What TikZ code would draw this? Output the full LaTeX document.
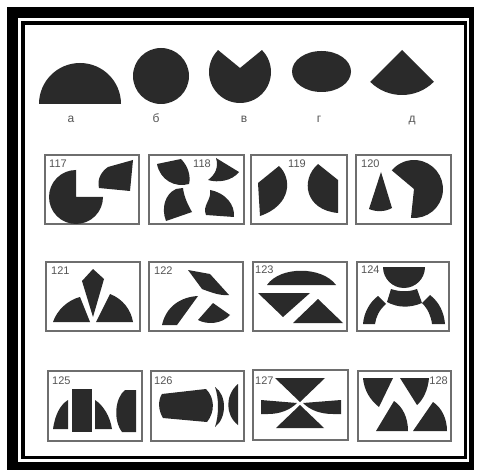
\documentclass[tikz,border=0pt]{standalone}
\usepackage{fontspec}
\setmainfont{Liberation Sans}
\definecolor{ink}{HTML}{2A2A2A}
\definecolor{pencil}{HTML}{555555}

\begin{document}
\begin{tikzpicture}[x=1pt, y=-1pt,
    piece/.style={fill=ink},
    card/.style={draw=pencil!85, line width=1.1pt},
    letter/.style={text=pencil, inner sep=0pt, anchor=base, font=\fontsize{12}{14}\selectfont},
    num/.style={text=pencil, inner sep=0pt, anchor=base west, font=\fontsize{11}{13}\selectfont}]
    \useasboundingbox (0,0) rectangle (479,473);
    % Frame
    \fill[white] (0,0) rectangle (479,473);
    \fill[black] (7,7) rectangle (474,470);
    \fill[white] (18,18) rectangle (469,462);
    \fill[black] (21,21) rectangle (467,459);
    \fill[white] (25,25) rectangle (464,456);
    % Figures a..d
    \fill[piece] (39,104) arc[start angle=180, end angle=360, radius=41] -- cycle;
    \fill[piece] (161,76) circle[radius=28];
    \fill[piece] (240,68) -- ([shift={(240,72)}]225:31) arc[start angle=225, end angle=-45, radius=31] -- cycle;
    \fill[piece] (321.5,71.5) ellipse[x radius=29.5, y radius=20.5];
    \fill[piece] (402,50) -- ++(45:45) arc[start angle=45, end angle=135, radius=45] -- cycle;
    \node[letter] (la) at (71,123) {а};
    \node[letter] (lb) at (156,123) {б};
    \node[letter] (lv) at (244,123) {в};
    \node[letter] (lg) at (319,123) {г};
    \node[letter] (ld) at (412,123) {д};
    % Cards
    \draw[card] (45,155) rectangle (139,224);
    \draw[card] (149,155) rectangle (244,224);
    \draw[card] (251,155) rectangle (347,224);
    \draw[card] (356,155) rectangle (451,224);
    \draw[card] (46,262) rectangle (140,331);
    \draw[card] (149,262) rectangle (243,331);
    \draw[card] (253,262) rectangle (347,331);
    \draw[card] (357,262) rectangle (449,331);
    \draw[card] (48,371) rectangle (142,441);
    \draw[card] (151,371) rectangle (244,441);
    \draw[card] (253,370) rectangle (348,440);
    \draw[card] (358,371) rectangle (451,441);
    % 117
    \node[num] (n117) at (49,168) {117};
    \fill[piece] (76,197) -- ++(270:27) arc[start angle=270, end angle=0, radius=27] -- cycle;
    \fill[piece] (108,167) -- (133,160) -- (130,191) -- (99,188) .. controls (97,179) and (101,172) .. cycle;
    % 118
    \node[num] (n118) at (193,168) {118};
    \fill[piece] (157,164) -- (181,159) .. controls (188,166) and (191,176) .. (189,184) .. controls (175,188) and (160,180) .. cycle;
    \fill[piece] (216,158) -- (239,172) .. controls (232,181) and (218,183) .. (208,180) .. controls (215,175) and (219,167) .. cycle;
    \fill[piece] (176,189) -- (183,188) .. controls (184,197) and (188,205) .. (192,212) -- (166,221) .. controls (161,208) and (165,194) .. cycle;
    \fill[piece] (210,190) .. controls (226,193) and (235,205) .. (234,217) -- (206,215) .. controls (202,205) and (212,200) .. cycle;
    % 119
    \node[num] (n119) at (288,168) {119};
    \fill[piece] (258,183) -- (279,166) .. controls (292,178) and (292,205) .. (260,216) -- cycle;
    \fill[piece] (318,164) -- (338,180) -- (338,213) .. controls (305,210) and (300,180) .. cycle;
    % 120
    \node[num] (n120) at (361,168) {120};
    \fill[piece] (381,172) -- (392,208) .. controls (385,212) and (376,212) .. (369,209) -- cycle;
    \fill[piece] (414,189) -- ++(96:29) arc[start angle=96, end angle=-140, radius=29] -- cycle;
    % 121
    \node[num] (n121) at (51,274) {121};
    \fill[piece] (93,269) -- (104,279) -- (93,317) -- (82,281) -- cycle;
    \fill[piece] (53,322) .. controls (57,310) and (68,300) .. (80,297) -- (90,322) -- cycle;
    \fill[piece] (96,322) -- (110,294) .. controls (123,299) and (131,310) .. (133,322) -- cycle;
    % 122
    \node[num] (n122) at (154,274) {122};
    \fill[piece] (188,270) -- (210,274) -- (229,295) .. controls (220,296) and (210,292) .. (202,289) -- cycle;
    \fill[piece] (162,325) .. controls (166,307) and (180,297) .. (198,296) -- (177,325) -- cycle;
    \fill[piece] (213,303) -- (230,315) .. controls (222,324) and (207,325) .. (198,320) -- cycle;
    % 123
    \node[num] (n123) at (255,273.5) {123};
    \fill[piece] (267,285) .. controls (280,266) and (322,266) .. (336,285) -- cycle;
    \fill[piece] (258,293) -- (310,293) -- (283,317) -- cycle;
    \fill[piece] (318,299) -- (343,323) -- (293,323) -- cycle;
    % 124
    \node[num] (n124) at (361,273.5) {124};
    \fill[piece] (383,267) -- (425,267) arc[start angle=0, end angle=180, radius=21] -- cycle;
    \fill[piece] (391,289) .. controls (400,292) and (409,292) .. (417,289) -- (422,303) .. controls (410,308) and (398,308) .. (387,302) -- cycle;
    \fill[piece] (363,324) .. controls (364,312) and (370,302) .. (378,296) -- (386,304) .. controls (379,310) and (376,317) .. (375,324) -- cycle;
    \fill[piece] (430,295) .. controls (439,302) and (444,312) .. (445,324) -- (432,324) .. controls (431,316) and (428,309) .. (422,303) -- cycle;
    % 125
    \node[num] (n125) at (52,384) {125};
    \fill[piece] (53,429) .. controls (55,415) and (60,405) .. (68,400) -- (68,429) -- cycle;
    \fill[piece] (72,389) rectangle (92,432);
    \fill[piece] (95,400) .. controls (103,405) and (110,416) .. (112,429) -- (95,429) -- cycle;
    \fill[piece] (125,390) -- (136,390) -- (136,432) -- (122,432) .. controls (113,420) and (115,398) .. cycle;
    % 126
    \node[num] (n126) at (154,384) {126};
    \fill[piece] (162,394) -- (206,389) .. controls (215,398) and (215,412) .. (207,422) -- (163,418) .. controls (158,410) and (158,400) .. cycle;
    \fill[piece] (215,387) .. controls (227,395) and (227,418) .. (215,427) .. controls (219,415) and (219,398) .. cycle;
    \fill[piece] (238,384) -- (238,425) .. controls (225,415) and (225,395) .. cycle;
    % 127
    \node[num] (n127) at (255,384) {127};
    \fill[piece] (275,378) -- (325,378) -- (300,402) -- cycle;
    \fill[piece] (300,405) -- (324,428) -- (276,428) -- cycle;
    \fill[piece] (261,400) -- (297,403) .. controls (290,410) and (280,414) .. (268,414) -- (261,414) -- cycle;
    \fill[piece] (341,400) -- (303,403) .. controls (310,410) and (320,414) .. (333,414) -- (341,414) -- cycle;
    % 128
    \node[num, anchor=base east] (n128) at (448,384) {128};
    \fill[piece] (363,378) -- (393,378) -- (379,407) .. controls (370,400) and (364,390) .. cycle;
    \fill[piece] (400,378) -- (429,378) .. controls (428,390) and (423,400) .. (417,405) -- cycle;
    \fill[piece] (394,401) .. controls (403,407) and (408,418) .. (408,431) -- (376,431) -- cycle;
    \fill[piece] (433,402) .. controls (442,408) and (447,419) .. (447,431) -- (413,431) -- cycle;
\end{tikzpicture}
\end{document}
